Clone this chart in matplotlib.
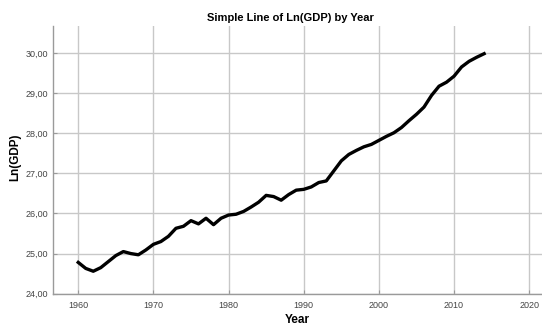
import matplotlib
matplotlib.use("Agg")
import matplotlib.pyplot as plt
from matplotlib.ticker import FuncFormatter

years = list(range(1960, 2015))
ln_gdp = [
    24.78, 24.63, 24.56, 24.65, 24.80, 24.95, 25.05, 25.00, 24.97, 25.09,
    25.23, 25.30, 25.43, 25.63, 25.68, 25.82, 25.74, 25.88, 25.72, 25.88,
    25.96, 25.98, 26.05, 26.16, 26.28, 26.45, 26.42, 26.33, 26.47, 26.58,
    26.60, 26.66, 26.77, 26.81, 27.06, 27.31, 27.47, 27.57, 27.66, 27.72,
    27.82, 27.92, 28.01, 28.14, 28.31, 28.47, 28.65, 28.94, 29.17, 29.27,
    29.42, 29.65, 29.79, 29.89, 29.98,
]
x_ticks = [1960, 1970, 1980, 1990, 2000, 2010, 2020]
y_ticks = [24, 25, 26, 27, 28, 29, 30]

plt.rcParams["font.family"] = ["Liberation Sans", "DejaVu Sans"]

fig = plt.figure(figsize=(5.42, 3.27), dpi=100)
ax = fig.add_axes([0.0972, 0.1018, 0.9028, 0.8187])

ax.plot(years, ln_gdp, color="black", linewidth=2.4, solid_joinstyle="round", zorder=3)

ax.set_xlim(1956.6, 2021.7)
ax.set_ylim(24, 30.67)
ax.set_xticks(x_ticks)
ax.set_yticks(y_ticks)
ax.yaxis.set_major_formatter(FuncFormatter(lambda v, _: f"{v:.2f}".replace(".", ",")))
ax.grid(True, color="#c8c8c8", linewidth=1.0)
ax.set_axisbelow(True)

for side in ("top", "right"):
    ax.spines[side].set_visible(False)
for side in ("left", "bottom"):
    ax.spines[side].set_color("#9a9a9a")
    ax.spines[side].set_linewidth(1.0)

ax.tick_params(axis="both", labelsize=6.5, labelcolor="#444444", color="#9a9a9a",
               length=3, direction="in")
ax.tick_params(axis="x", pad=5)

# axis labels and title placed in figure pixels, as in the reference
fig.text(297 / 542, 1 - 320 / 327, "Year", ha="center", va="center",
         fontsize=8.5, fontweight="bold")
fig.text(15 / 542, 1 - 157 / 327, "Ln(GDP)", ha="center", va="center",
         rotation=90, fontsize=8.5, fontweight="bold")
fig.text(0.535, 0.945, "Simple Line of Ln(GDP) by Year", ha="center", va="center",
         fontsize=8, fontweight="bold")

fig.savefig("out.png", dpi=100)
